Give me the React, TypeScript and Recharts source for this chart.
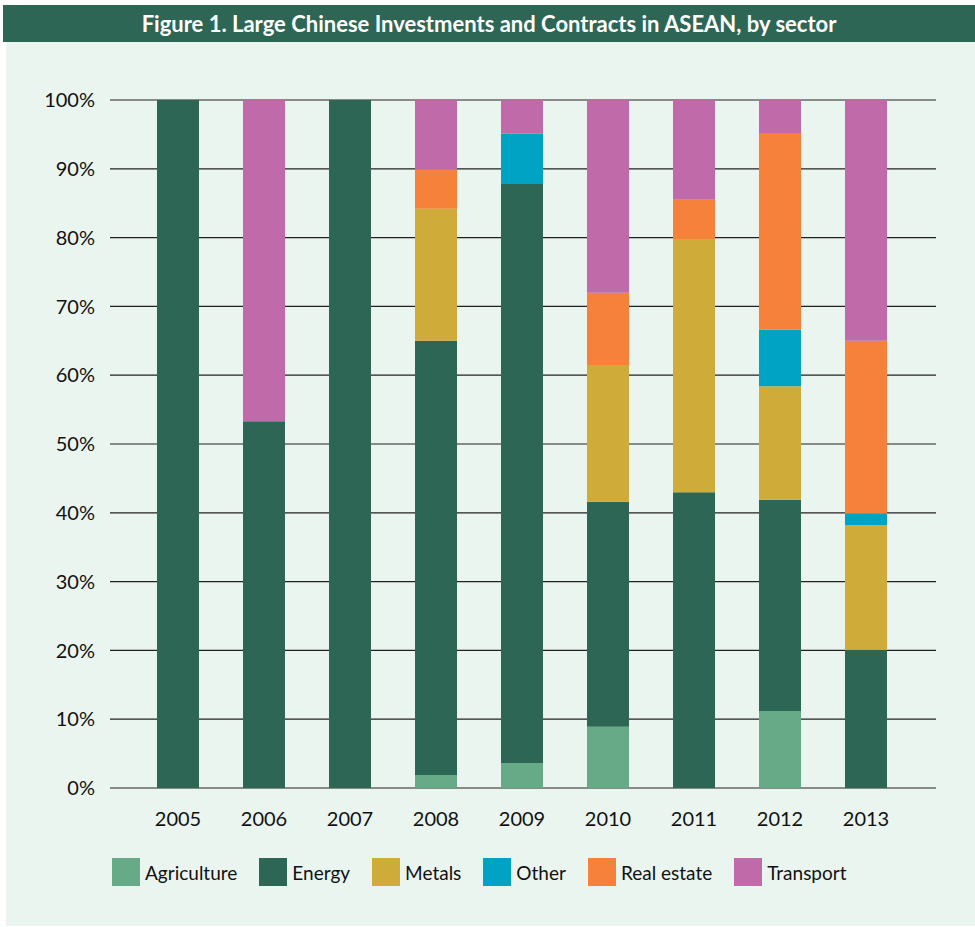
import React from "react";
import { BarChart, Bar, XAxis, YAxis, CartesianGrid } from "recharts";

const years = ["2005", "2006", "2007", "2008", "2009", "2010", "2011", "2012", "2013"];

// share of deal value by sector, in percent
const agriculture = [0, 0, 0, 1.9, 3.6, 8.9, 0, 11.2, 0];
const energy = [100, 53.3, 100, 63.1, 84.2, 32.7, 43.0, 30.7, 20.1];
const metals = [0, 0, 0, 19.2, 0, 19.9, 36.8, 16.5, 18.1];
const other = [0, 0, 0, 0, 7.3, 0, 0, 8.2, 1.7];
const realEstate = [0, 0, 0, 5.7, 0, 10.5, 5.7, 28.6, 25.1];
const transport = [0, 46.7, 0, 10.1, 4.9, 28.0, 14.5, 4.8, 35.0];

const yTicks = [0, 0.1, 0.2, 0.3, 0.4, 0.5, 0.6, 0.7, 0.8, 0.9, 1];

const series = [
  { key: "agriculture", name: "Agriculture", color: "#66aa88", values: agriculture },
  { key: "energy", name: "Energy", color: "#2e6655", values: energy },
  { key: "metals", name: "Metals", color: "#cfab3a", values: metals },
  { key: "other", name: "Other", color: "#00a3c4", values: other },
  { key: "realEstate", name: "Real estate", color: "#f5813a", values: realEstate },
  { key: "transport", name: "Transport", color: "#c06aaa", values: transport },
];

const data = years.map((year, i) => {
  const row: Record<string, string | number> = { year };
  series.forEach((s) => {
    row[s.key] = s.values[i];
  });
  return row;
});

const font = "Lato, 'Open Sans', sans-serif";

export default function App() {
  return (
    <div style={{ position: "absolute", left: 0, top: 0, width: 975, height: 927, fontFamily: font }}>
      {/* title bar */}
      <div
        style={{
          position: "absolute", left: 3, top: 5, width: 972, height: 37,
          background: "#2e6655", color: "#fff", fontWeight: 700, fontSize: 22,
          display: "flex", alignItems: "center", justifyContent: "center",
        }}
      >
        Figure 1. Large Chinese Investments and Contracts in ASEAN, by sector
      </div>
      {/* panel */}
      <div style={{ position: "absolute", left: 6, top: 42, width: 969, height: 884, background: "#ebf5ef" }} />

      <div style={{ position: "absolute", left: 0, top: 0 }}>
        <BarChart
          width={975}
          height={840}
          data={data}
          stackOffset="expand"
          barSize={42}
          margin={{ top: 100, right: 39, bottom: 0, left: 0 }}
        >
          <CartesianGrid vertical={false} stroke="#222" strokeWidth={1.2} />
          <XAxis
            dataKey="year"
            axisLine={false}
            tickLine={false}
            tickSize={0}
            tickMargin={24}
            height={52}
            padding={{ left: 25, right: 27 }}
            tick={{ fill: "#111", fontSize: 20, fontFamily: font }}
          />
          <YAxis
            width={110}
            domain={[0, 1]}
            ticks={yTicks}
            axisLine={false}
            tickLine={false}
            tickSize={0}
            tickMargin={15}
            tickFormatter={(v: number) => `${Math.round(v * 100)}%`}
            tick={{ fill: "#111", fontSize: 20, fontFamily: font }}
          />
          {series.map((s) => (
            <Bar key={s.key} dataKey={s.key} name={s.name} stackId="a" fill={s.color} isAnimationActive={false} />
          ))}
        </BarChart>
      </div>

      {/* legend */}
      <div
        style={{
          position: "absolute", left: 112, top: 858, display: "flex", alignItems: "center",
          fontSize: 19, color: "#111", height: 28,
        }}
      >
        {series.map((s) => (
          <div key={s.key} style={{ display: "flex", alignItems: "center", marginRight: 22 }}>
            <div style={{ width: 28, height: 28, background: s.color, marginRight: 5 }} />
            <span>{s.name}</span>
          </div>
        ))}
      </div>
    </div>
  );
}
